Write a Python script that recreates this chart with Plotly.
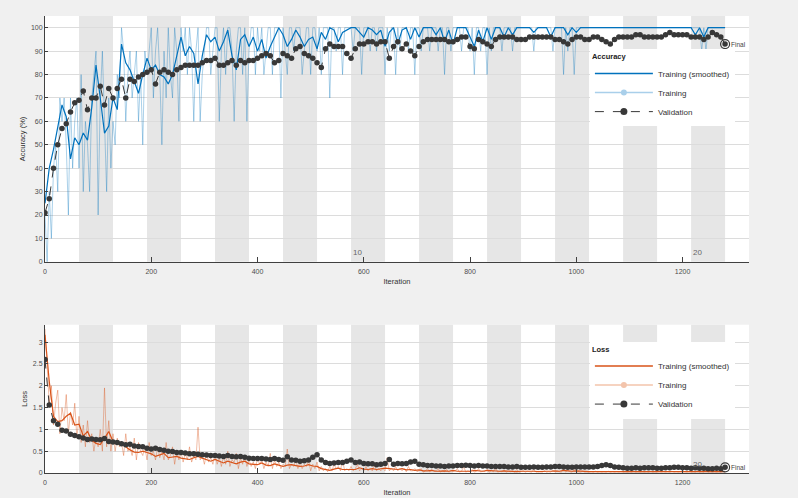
import plotly.graph_objects as go

# 20 epochs x 64 iterations per epoch
epoch_len = 64
n_epochs = 20
it_fine = list(range(0, 1281, 4))
it_coarse = list(range(0, 1281, 8))

# raw mini-batch accuracy, every 4 iterations (one row per epoch)
acc_train = [
    20, 0, 30, 10, 40, 50, 30, 70, 60, 70, 50, 20, 70, 40, 60, 70,
    40, 80, 30, 60, 50, 30, 70, 80, 90, 20, 70, 90, 60, 30, 70, 40,
    60, 50, 80, 70, 100, 90, 60, 80, 90, 70, 80, 90, 60, 80, 50, 90,
    80, 90, 100, 70, 90, 100, 80, 50, 90, 70, 100, 80, 70, 100, 90, 60,
    100, 90, 100, 80, 100, 90, 60, 90, 100, 60, 80, 90, 100, 100, 80, 90,
    100, 100, 60, 90, 100, 80, 100, 100, 90, 60, 90, 100, 100, 80, 100, 60,
    90, 100, 100, 80, 100, 90, 100, 80, 90, 100, 100, 80, 100, 100, 100, 70,
    100, 90, 80, 100, 100, 90, 100, 100, 100, 80, 90, 100, 100, 80, 100, 100,
    90, 100, 80, 100, 100, 100, 70, 100, 100, 90, 100, 100, 80, 100, 100, 100,
    100, 90, 100, 100, 100, 80, 100, 100, 100, 90, 100, 100, 90, 100, 100, 100,
    80, 100, 90, 100, 100, 80, 100, 90, 100, 100, 100, 90, 100, 100, 80, 100,
    100, 90, 100, 100, 100, 90, 100, 100, 100, 90, 100, 100, 80, 100, 100, 90,
    100, 100, 100, 100, 90, 100, 100, 100, 90, 100, 80, 100, 100, 90, 100, 100,
    80, 100, 90, 100, 100, 100, 100, 90, 100, 100, 100, 100, 90, 100, 100, 100,
    100, 100, 100, 100, 100, 100, 90, 100, 100, 100, 100, 100, 100, 100, 100, 90,
    100, 100, 100, 100, 80, 100, 90, 100, 100, 80, 100, 100, 100, 100, 100, 100,
    100, 100, 100, 100, 100, 100, 100, 100, 100, 100, 100, 100, 100, 100, 100, 100,
    100, 100, 100, 100, 100, 100, 100, 100, 100, 100, 100, 100, 100, 100, 100, 100,
    100, 100, 100, 100, 100, 100, 100, 100, 100, 100, 100, 100, 100, 100, 100, 100,
    100, 100, 100, 100, 100, 90, 100, 90, 100, 100, 100, 100, 100, 100, 100, 100,
    100,
]

# smoothed training accuracy, every 8 iterations
acc_smooth = [
    25, 40, 48, 58, 67, 62, 44, 53, 50, 55,
    52, 66, 84, 70, 55, 58, 70, 65, 93, 85,
    82, 77, 72, 80, 87, 82, 84, 80, 79, 76,
    80, 88, 96, 88, 92, 89, 76, 88, 97, 94,
    96, 90, 94, 99, 88, 82, 95, 97, 92, 96,
    90, 95, 87, 92, 96, 100, 97, 92, 95, 99,
    96, 92, 95, 96, 91, 98, 95, 100, 99, 94,
    98, 99, 100, 100, 98, 96, 100, 99, 97, 99,
    92, 98, 100, 93, 99, 100, 95, 100, 96, 100,
    100, 100, 97, 100, 94, 99, 93, 100, 100, 100,
    96, 92, 99, 94, 100, 95, 100, 100, 96, 100,
    97, 100, 100, 100, 100, 98, 100, 100, 100, 96,
    100, 100, 100, 97, 100, 98, 100, 100, 100, 100,
    100, 100, 100, 100, 100, 100, 100, 100, 100, 100,
    100, 100, 100, 100, 100, 100, 100, 100, 100, 100,
    100, 100, 100, 97, 100, 96, 100, 100, 100, 100,
    100,
]

# validation accuracy, every 8 iterations
acc_val = [
    21, 27, 40, 50, 57, 59, 64, 68, 69, 73,
    65, 70, 70, 75, 67, 74, 70, 74, 78, 70,
    78, 77, 79, 80, 81, 82, 76, 81, 82, 81,
    80, 82, 83, 84, 84, 84, 84, 85, 86, 86,
    87, 84, 84, 85, 86, 84, 86, 85, 86, 86,
    87, 88, 89, 88, 85, 86, 89, 88, 87, 91,
    92, 89, 88, 87, 85, 83, 91, 93, 92, 92,
    92, 89, 87, 91, 93, 93, 94, 94, 93, 94,
    94, 87, 92, 94, 91, 93, 90, 88, 92, 94,
    95, 95, 95, 95, 95, 94, 94, 95, 96, 96,
    92, 91, 95, 94, 93, 92, 95, 96, 96, 96,
    96, 95, 95, 95, 96, 96, 96, 96, 96, 96,
    95, 95, 94, 93, 95, 96, 96, 95, 95, 96,
    96, 95, 94, 93, 95, 96, 96, 96, 96, 97,
    97, 96, 96, 96, 96, 96, 97, 98, 97, 97,
    97, 97, 96, 96, 96, 95, 96, 98, 97, 96,
    93,
]

# raw mini-batch loss, every 4 iterations (one row per epoch)
loss_train = [
    3.3, 2.4, 1.6, 2.0, 1.1, 1.6, 1.9, 0.9, 1.5, 1.2, 1.8, 0.9, 1.4, 1.1, 1.6, 0.8,
    1.3, 0.7, 1.1, 0.6, 1.2, 0.7, 0.9, 0.5, 0.8, 0.6, 1.0, 0.5, 1.95, 0.6, 1.2, 0.5,
    0.9, 0.5, 0.8, 0.6, 0.7, 0.4, 0.9, 0.5, 0.6, 0.4, 0.8, 0.3, 0.7, 0.5, 0.4, 0.6,
    0.3, 0.7, 0.4, 0.5, 0.3, 0.6, 0.35, 0.5, 0.3, 0.7, 0.3, 0.4, 0.6, 0.2, 0.5, 0.3,
    0.5, 0.25, 0.45, 0.3, 0.6, 0.25, 0.4, 0.3, 1.05, 0.3, 0.4, 0.2, 0.45, 0.25, 0.35, 0.2,
    0.45, 0.2, 0.35, 0.15, 0.4, 0.2, 0.5, 0.15, 0.3, 0.25, 0.45, 0.1, 0.35, 0.2, 0.4, 0.15,
    0.3, 0.15, 0.25, 0.1, 0.35, 0.2, 0.3, 0.1, 0.25, 0.15, 0.45, 0.1, 0.3, 0.15, 0.25, 0.1,
    0.2, 0.15, 0.55, 0.1, 0.2, 0.15, 0.3, 0.1, 0.25, 0.1, 0.2, 0.15, 0.3, 0.05, 0.2, 0.1,
    0.25, 0.05, 0.15, 0.05, 0.1, 0.03, 0.15, 0.05, 0.2, 0.1, 0.15, 0.05, 0.3, 0.05, 0.1, 0.05,
    0.15, 0.05, 0.1, 0.2, 0.05, 0.1, 0.05, 0.15, 0.05, 0.1, 0.05, 0.2, 0.05, 0.1, 0.05, 0.1,
    0.05, 0.35, 0.05, 0.1, 0.05, 0.15, 0.05, 0.1, 0.05, 0.1, 0.03, 0.15, 0.05, 0.05, 0.1, 0.03,
    0.05, 0.1, 0.02, 0.05, 0.1, 0.02, 0.08, 0.03, 0.05, 0.1, 0.02, 0.05, 0.03, 0.08, 0.02, 0.05,
    0.03, 0.05, 0.1, 0.02, 0.04, 0.15, 0.02, 0.05, 0.03, 0.08, 0.02, 0.04, 0.1, 0.02, 0.05, 0.03,
    0.08, 0.02, 0.05, 0.03, 0.12, 0.02, 0.04, 0.03, 0.06, 0.02, 0.04, 0.03, 0.05, 0.02, 0.08, 0.02,
    0.03, 0.05, 0.02, 0.04, 0.03, 0.02, 0.08, 0.02, 0.04, 0.03, 0.02, 0.05, 0.02, 0.03, 0.02, 0.06,
    0.02, 0.04, 0.03, 0.02, 0.1, 0.02, 0.06, 0.03, 0.02, 0.08, 0.02, 0.03, 0.02, 0.04, 0.02, 0.03,
    0.02, 0.03, 0.02, 0.04, 0.02, 0.03, 0.02, 0.03, 0.02, 0.04, 0.02, 0.03, 0.02, 0.03, 0.02, 0.03,
    0.02, 0.03, 0.02, 0.03, 0.02, 0.04, 0.02, 0.03, 0.02, 0.03, 0.02, 0.03, 0.02, 0.04, 0.02, 0.03,
    0.02, 0.03, 0.02, 0.03, 0.02, 0.03, 0.02, 0.04, 0.02, 0.03, 0.02, 0.03, 0.02, 0.03, 0.02, 0.03,
    0.02, 0.03, 0.02, 0.05, 0.02, 0.03, 0.02, 0.06, 0.02, 0.03, 0.02, 0.03, 0.02, 0.03, 0.02, 0.04,
    0.03,
]

# smoothed training loss, every 8 iterations
loss_smooth = [
    3.17, 2.1, 1.3, 1.18, 1.2, 1.3, 1.37, 1.1, 1.12, 0.85,
    0.95, 0.75, 0.68, 0.65, 0.8, 0.95, 0.72, 0.7, 0.7, 0.6,
    0.53, 0.48, 0.47, 0.5, 0.47, 0.44, 0.38, 0.42, 0.45, 0.35,
    0.37, 0.38, 0.34, 0.33, 0.31, 0.35, 0.38, 0.34, 0.3, 0.27,
    0.31, 0.27, 0.23, 0.27, 0.24, 0.21, 0.25, 0.27, 0.21, 0.2,
    0.19, 0.23, 0.18, 0.17, 0.21, 0.18, 0.15, 0.18, 0.19, 0.17,
    0.15, 0.16, 0.19, 0.16, 0.15, 0.1, 0.08, 0.06, 0.09, 0.11,
    0.08, 0.08, 0.09, 0.08, 0.12, 0.09, 0.08, 0.1, 0.08, 0.1,
    0.11, 0.1, 0.09, 0.08, 0.1, 0.07, 0.08, 0.06, 0.07, 0.05,
    0.05, 0.06, 0.04, 0.05, 0.05, 0.04, 0.06, 0.04, 0.04, 0.05,
    0.04, 0.06, 0.05, 0.04, 0.06, 0.05, 0.04, 0.04, 0.05, 0.04,
    0.04, 0.03, 0.04, 0.04, 0.05, 0.04, 0.03, 0.04, 0.04, 0.04,
    0.05, 0.04, 0.06, 0.05, 0.04, 0.05, 0.04, 0.03, 0.03, 0.03,
    0.03, 0.03, 0.04, 0.03, 0.03, 0.03, 0.03, 0.03, 0.03, 0.03,
    0.03, 0.03, 0.03, 0.03, 0.03, 0.03, 0.03, 0.03, 0.03, 0.03,
    0.03, 0.03, 0.04, 0.03, 0.04, 0.03, 0.03, 0.03, 0.03, 0.03,
    0.03,
]

# validation loss, every 8 iterations
loss_val = [
    2.6, 1.56, 1.2, 1.12, 0.98, 0.96, 0.89, 0.86, 0.83, 0.8,
    0.77, 0.78, 0.77, 0.76, 0.79, 0.72, 0.71, 0.7, 0.67, 0.65,
    0.66, 0.62, 0.61, 0.6, 0.57, 0.55, 0.57, 0.54, 0.52, 0.5,
    0.49, 0.47, 0.47, 0.46, 0.44, 0.44, 0.43, 0.42, 0.41, 0.4,
    0.4, 0.39, 0.38, 0.4, 0.38, 0.37, 0.38, 0.36, 0.34, 0.33,
    0.33, 0.33, 0.32, 0.31, 0.33, 0.31, 0.29, 0.37, 0.3, 0.29,
    0.27, 0.28, 0.3, 0.36, 0.42, 0.3, 0.24, 0.22, 0.23, 0.24,
    0.24, 0.27, 0.3, 0.24, 0.25, 0.22, 0.21, 0.21, 0.19, 0.2,
    0.22, 0.31, 0.2, 0.22, 0.21, 0.22, 0.25, 0.27, 0.2, 0.19,
    0.17, 0.17, 0.16, 0.16, 0.15, 0.16, 0.16, 0.17, 0.17, 0.18,
    0.17, 0.16, 0.17, 0.16, 0.16, 0.15, 0.15, 0.15, 0.15, 0.14,
    0.14, 0.15, 0.13, 0.13, 0.13, 0.14, 0.13, 0.13, 0.14, 0.14,
    0.15, 0.15, 0.14, 0.13, 0.13, 0.14, 0.14, 0.14, 0.14, 0.14,
    0.15, 0.17, 0.19, 0.17, 0.14, 0.13, 0.12, 0.11, 0.11, 0.12,
    0.11, 0.12, 0.12, 0.12, 0.11, 0.11, 0.12, 0.12, 0.13, 0.13,
    0.12, 0.12, 0.11, 0.12, 0.11, 0.11, 0.1, 0.1, 0.11, 0.1,
    0.13,
]

acc_ticks = list(range(0, 101, 10))
loss_ticks = [0, 0.5, 1, 1.5, 2, 2.5, 3]
iter_ticks = [0, 200, 400, 600, 800, 1000, 1200]

BLUE = '#0072bd'
BLUE_RAW = 'rgba(0,114,189,0.33)'
BLUE_LEG = '#a9cfea'
ORANGE = '#d95319'
ORANGE_RAW = 'rgba(217,83,25,0.38)'
ORANGE_LEG = '#f3c4ab'
DARK = '#383838'
FONT = 'Liberation Sans, Arial, sans-serif'

fig = go.Figure()


def add_panel(xa, ya, leg, raw, smooth, val, raw_col, smooth_col, leg_col):
    fig.add_trace(go.Scatter(x=it_fine, y=raw, mode='lines', line=dict(color=raw_col, width=1),
                             xaxis=xa, yaxis=ya, showlegend=False, hoverinfo='skip'))
    fig.add_trace(go.Scatter(x=it_coarse, y=smooth, mode='lines', line=dict(color=smooth_col, width=1.2),
                             xaxis=xa, yaxis=ya, showlegend=False))
    fig.add_trace(go.Scatter(x=it_coarse, y=val, mode='lines+markers',
                             line=dict(color=DARK, width=1, dash='dash'),
                             marker=dict(color=DARK, size=5.5),
                             xaxis=xa, yaxis=ya, showlegend=False))
    # final marker
    fig.add_trace(go.Scatter(x=[it_coarse[-1]], y=[val[-1]], mode='markers',
                             marker=dict(symbol='circle-open', size=9, color=DARK, line=dict(width=1.2)),
                             xaxis=xa, yaxis=ya, showlegend=False))
    # legend entries
    fig.add_trace(go.Scatter(x=[None], y=[None], mode='lines', name='Training (smoothed)',
                             line=dict(color=smooth_col, width=1.5), xaxis=xa, yaxis=ya, legend=leg))
    fig.add_trace(go.Scatter(x=[None], y=[None], mode='lines+markers', name='Training',
                             line=dict(color=leg_col, width=1.5), marker=dict(color=leg_col, size=6),
                             xaxis=xa, yaxis=ya, legend=leg))
    fig.add_trace(go.Scatter(x=[None], y=[None], mode='lines+markers', name='Validation',
                             line=dict(color=DARK, width=1, dash='dash'), marker=dict(color=DARK, size=7),
                             xaxis=xa, yaxis=ya, legend=leg))


add_panel('x', 'y', 'legend', acc_train, acc_smooth, acc_val, BLUE_RAW, BLUE, BLUE_LEG)
add_panel('x2', 'y2', 'legend2', loss_train, loss_smooth, loss_val, ORANGE_RAW, ORANGE, ORANGE_LEG)

# alternating epoch bands
shapes = []
for yref, xref in [('y domain', 'x'), ('y2 domain', 'x2')]:
    for e in range(1, n_epochs, 2):
        shapes.append(dict(type='rect', xref=xref, yref=yref, x0=e*epoch_len, x1=(e+1)*epoch_len,
                           y0=0, y1=1, fillcolor='#e6e6e6', line=dict(width=0), layer='below'))
# white area behind legends
shapes.append(dict(type='rect', xref='x domain', yref='y domain', x0=0.774, x1=1, y0=0.589, y1=0.854,
                   fillcolor='white', line=dict(width=0), layer='below'))
shapes.append(dict(type='rect', xref='x2 domain', yref='y2 domain', x0=0.774, x1=1, y0=0.467, y1=0.881,
                   fillcolor='white', line=dict(width=0), layer='below'))

annotations = [
    dict(text='10', x=576, y=4.2, xref='x', yref='y', xanchor='left', showarrow=False,
         font=dict(size=8, color='#666666')),
    dict(text='20', x=1216, y=4.2, xref='x', yref='y', xanchor='left', showarrow=False,
         font=dict(size=8, color='#666666')),
    dict(text='20', x=1216, y=0.2, xref='x2', yref='y2', xanchor='left', showarrow=False,
         font=dict(size=8, color='#666666')),
    dict(text='Final', x=1288, y=acc_val[-1], xref='x', yref='y', xanchor='left', showarrow=False,
         font=dict(size=6.5, color='#444444')),
    dict(text='Final', x=1288, y=loss_val[-1], xref='x2', yref='y2', xanchor='left', showarrow=False,
         font=dict(size=6.5, color='#444444')),
]

xcommon = dict(range=[0, 1325], tickvals=iter_ticks, ticks='inside', ticklen=5, tickcolor='#404040',
               showline=True, linecolor='#404040', linewidth=1, showgrid=False, zeroline=False,
               tickfont=dict(size=7, color='#4d4d4d'), ticklabelstandoff=3, automargin=False,
               title=dict(text='Iteration', font=dict(size=7.5, color='#333333'), standoff=4))
ycommon = dict(ticks='inside', ticklen=3, tickcolor='#404040', showline=True, linecolor='#404040',
               linewidth=1, showgrid=True, gridcolor='#dcdcdc', gridwidth=1, zeroline=False,
               tickfont=dict(size=7, color='#4d4d4d'), automargin=False)

fig.update_layout(
    width=798, height=498,
    margin=dict(l=45, r=49, t=16, b=25),
    paper_bgcolor='#f0f0f0', plot_bgcolor='white',
    font=dict(family=FONT),
    xaxis=dict(domain=[0, 1], anchor='y', **xcommon),
    yaxis=dict(domain=[0.462, 1], anchor='x', range=[0, 105], tickvals=acc_ticks,
               title=dict(text='Accuracy (%)', font=dict(size=7.5, color='#333333'), standoff=4), **ycommon),
    xaxis2=dict(domain=[0, 1], anchor='y2', **xcommon),
    yaxis2=dict(domain=[0, 0.3245], anchor='x2', range=[0, 3.4], tickvals=loss_ticks,
                title=dict(text='Loss', font=dict(size=7.5, color='#333333'), standoff=4), **ycommon),
    legend=dict(x=0.774, y=0.927, xanchor='left', yanchor='top', bgcolor='white',
                font=dict(size=8, color='#333333'), itemwidth=58, traceorder='normal',
                title=dict(text='<b>Accuracy</b>', font=dict(size=7.5, color='#222222'))),
    legend2=dict(x=0.774, y=0.287, xanchor='left', yanchor='top', bgcolor='white',
                 font=dict(size=8, color='#333333'), itemwidth=58, traceorder='normal',
                 title=dict(text='<b>Loss</b>', font=dict(size=7.5, color='#222222'))),
    shapes=shapes,
    annotations=annotations,
)

fig.write_html("out.html", config={'displayModeBar': False},
               post_script="document.body.style.margin='0';"
                           "document.body.style.backgroundColor='#f0f0f0';")
